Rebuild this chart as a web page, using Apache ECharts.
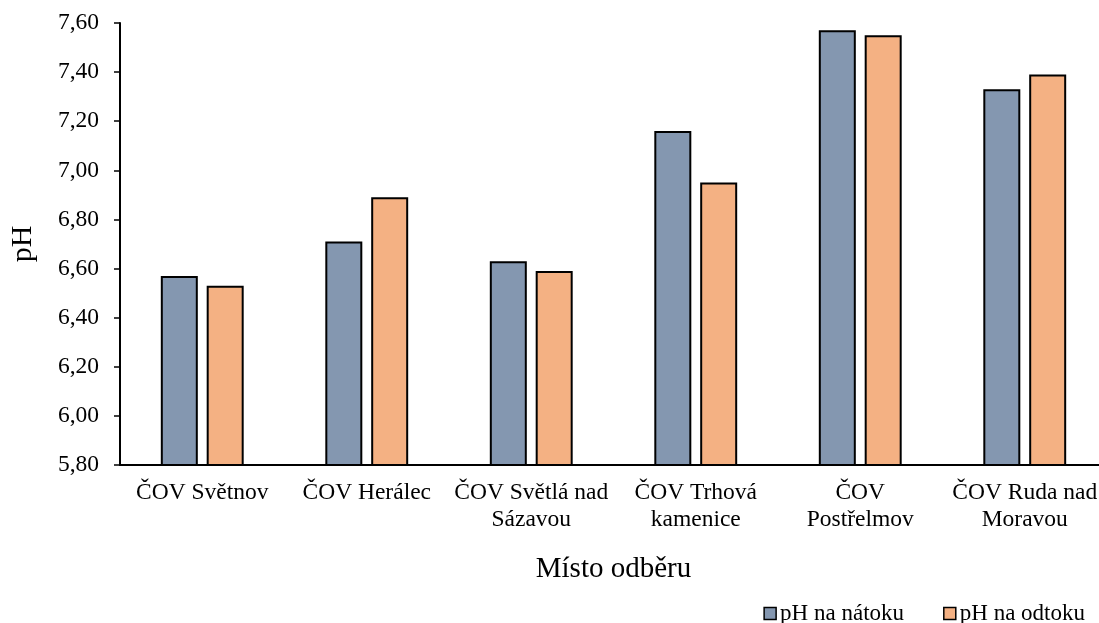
<!DOCTYPE html>
<html>
<head>
<meta charset="utf-8">
<script src="https://cdn.jsdelivr.net/npm/echarts@6/dist/echarts.min.js"></script>
<style>html,body{margin:0;padding:0;background:#fff;}#c{width:1099px;height:623px;}</style>
</head>
<body>
<div id="c"></div>
<script>
const categories = ['ČOV Světnov', 'ČOV Herálec', 'ČOV Světlá nad\nSázavou', 'ČOV Trhová\nkamenice', 'ČOV\nPostřelmov', 'ČOV Ruda nad\nMoravou'];
const inflow = [6.57, 6.71, 6.63, 7.16, 7.57, 7.33];
const outflow = [6.53, 6.89, 6.59, 6.95, 7.55, 7.39];
const seriesNames = ['pH na nátoku', 'pH na odtoku'];
const yMin = 5.8, yMax = 7.6, yStep = 0.2;

const font = 'Liberation Serif, Times New Roman, serif';
const chart = echarts.init(document.getElementById('c'));
chart.setOption({
  animation: false,
  backgroundColor: '#fff',
  grid: { left: 120, top: 23, width: 987, height: 442, containLabel: false, outerBoundsMode: 'none' },
  legend: {
    right: 9, top: 597, itemWidth: 12, itemHeight: 12, itemGap: 39,
    textStyle: { fontFamily: font, fontSize: 23, color: '#000', padding: [0, 0, 0, -1] },
    data: seriesNames.map(n => ({ name: n, icon: 'rect', itemStyle: { borderColor: '#000', borderWidth: 1.5 } }))
  },
  xAxis: {
    type: 'category', data: categories,
    name: 'Místo odběru', nameLocation: 'middle', nameGap: 90,
    nameTextStyle: { fontFamily: font, fontSize: 29, color: '#000' },
    axisLine: { lineStyle: { color: '#000', width: 2 } },
    axisTick: { alignWithLabel: true, length: 5, lineStyle: { color: '#000', width: 1.5 } },
    axisLabel: { interval: 0, fontFamily: font, fontSize: 23.5, color: '#000', margin: 14, lineHeight: 27 }
  },
  yAxis: {
    type: 'value', min: yMin, max: yMax, interval: yStep,
    name: 'pH', nameLocation: 'middle', nameGap: 82,
    nameTextStyle: { fontFamily: font, fontSize: 30, color: '#000' },
    axisLine: { show: true, lineStyle: { color: '#000', width: 2 } },
    axisTick: { show: true, length: 6, lineStyle: { color: '#000', width: 1.5 } },
    splitLine: { show: false },
    axisLabel: { fontFamily: font, fontSize: 23.5, color: '#000', margin: 21,
      formatter: v => v.toFixed(2).replace('.', ',') }
  },
  series: [
    { name: seriesNames[0], type: 'bar', data: inflow, barWidth: 37, barGap: '24%',
      itemStyle: { color: '#8497B0', borderColor: '#000', borderWidth: 2 } },
    { name: seriesNames[1], type: 'bar', data: outflow, barWidth: 37,
      itemStyle: { color: '#F4B183', borderColor: '#000', borderWidth: 2 } }
  ]
});
</script>
</body>
</html>
